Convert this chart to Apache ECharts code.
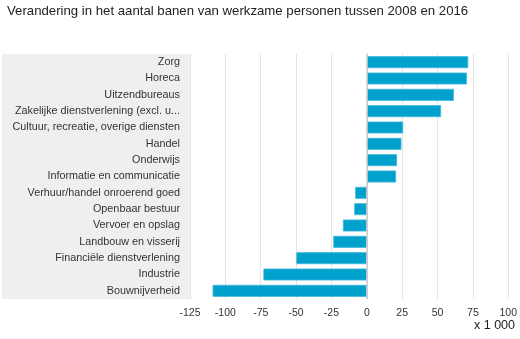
<!DOCTYPE html>
<html><head><meta charset="utf-8">
<script src="https://cdn.jsdelivr.net/npm/echarts@6/dist/echarts.min.js"></script>
<style>html,body{margin:0;padding:0;background:#fff}#c{width:520px;height:339px}</style>
</head><body><div id="c"></div>
<script>
const categories = ['Zorg','Horeca','Uitzendbureaus','Zakelijke dienstverlening (excl. u...','Cultuur, recreatie, overige diensten','Handel','Onderwijs','Informatie en communicatie','Verhuur/handel onroerend goed','Openbaar bestuur','Vervoer en opslag','Landbouw en visserij','Financiële dienstverlening','Industrie','Bouwnijverheid'];
const values = [71.7, 70.8, 61.6, 52.5, 25.7, 24.5, 21.4, 20.7, -8.2, -8.9, -16.9, -23.7, -49.8, -73.1, -109];
const xTicks = [-125, -100, -75, -50, -25, 0, 25, 50, 75, 100];
const title = 'Verandering in het aantal banen van werkzame personen tussen 2008 en 2016';
const unitLabel = 'x 1 000';

const chart = echarts.init(document.getElementById('c'), null, {renderer:'canvas'});
chart.setOption({
  animation:false,
  title:{text:title,left:2,top:0,textStyle:{fontFamily:'Liberation Sans',fontSize:13.2,fontWeight:'normal',color:'#222'}},
  graphic:[
    {type:'rect',shape:{x:2,y:54,width:188,height:245},style:{fill:'#efefef'},z:-10},
    {type:'text',right:5,bottom:7,style:{text:unitLabel,font:'12.5px Liberation Sans',fill:'#222'}}
  ],
  grid:{left:190,right:10,top:54,bottom:40},
  xAxis:{type:'value',min:xTicks[0],max:xTicks[xTicks.length-1],interval:25,
    axisLine:{show:false},axisTick:{show:false},
    axisLabel:{color:'#333',fontFamily:'Liberation Sans',fontSize:10.5,margin:9},
    splitLine:{lineStyle:{color:'#e4e4e4',width:1}}},
  yAxis:{type:'category',data:categories,inverse:true,
    axisLine:{lineStyle:{color:'#c8c8c8'}},
    axisTick:{alignWithLabel:true,length:6,lineStyle:{color:'#cccccc'}},
    axisLabel:{color:'#333',fontFamily:'Liberation Sans',fontSize:10.8,margin:10}},
  series:[{type:'bar',data:values,barCategoryGap:'27%',
    itemStyle:{color:'#00a1cd',borderColor:'#40b8da',borderWidth:0.8},
    markLine:{silent:true,symbol:'none',label:{show:false},lineStyle:{color:'#cfcfcf',type:'solid',width:1.5},data:[{xAxis:0}]}}]
});
</script></body></html>
